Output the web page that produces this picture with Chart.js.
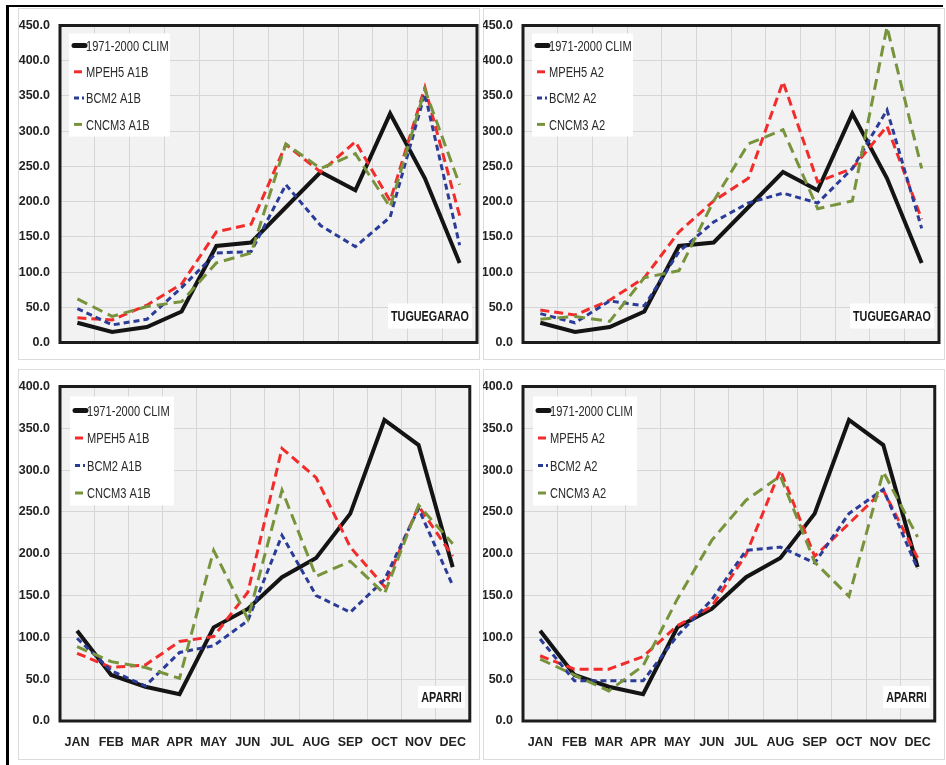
<!DOCTYPE html>
<html>
<head>
<meta charset="utf-8">
<script src="https://cdn.jsdelivr.net/npm/chart.js@4"></script>
<style>
  html, body { margin: 0; padding: 0; background: #fff; }
  #wrap { position: relative; width: 946px; height: 765px; overflow: hidden; background: #fff; }
  canvas { position: absolute; }
  #frame { position: absolute; left: 6px; top: 5px; width: 934px; height: 770px; border-left: 3px solid #000; border-top: 2px solid #000; }
</style>
</head>
<body>
<div id="wrap">
  <div id="frame"></div>
  <canvas id="c1" width="462" height="352" style="left:18px;top:8px"></canvas>
  <canvas id="c2" width="462" height="352" style="left:483px;top:8px"></canvas>
  <canvas id="c3" width="462" height="391" style="left:18px;top:369px"></canvas>
  <canvas id="c4" width="462" height="391" style="left:483px;top:369px"></canvas>
</div>
<script>
// ---- data ----
const months = ['JAN','FEB','MAR','APR','MAY','JUN','JUL','AUG','SEP','OCT','NOV','DEC'];
const yTicksTop = [0, 50, 100, 150, 200, 250, 300, 350, 400, 450];
const yTicksBottom = [0, 50, 100, 150, 200, 250, 300, 350, 400];

const tugClim      = [28, 15, 22, 44, 137, 142, 192, 242, 216, 325, 233, 113];
const tugMpeh5A1B  = [35, 32, 53, 83, 157, 168, 281, 242, 285, 201, 362, 180];
const tugBcm2A1B   = [48, 25, 33, 78, 127, 129, 224, 166, 136, 178, 353, 138];
const tugCncm3A1B  = [62, 37, 51, 58, 113, 127, 282, 247, 268, 192, 359, 224];

const tugMpeh5A2   = [46, 39, 60, 92, 157, 201, 233, 370, 228, 247, 307, 175];
const tugBcm2A2    = [41, 28, 59, 52, 129, 171, 198, 212, 198, 247, 330, 162];
const tugCncm3A2   = [33, 37, 30, 92, 102, 201, 282, 302, 190, 201, 448, 247];

const apaClim      = [108, 55, 41, 32, 112, 134, 172, 195, 248, 360, 330, 184];
const apaMpeh5A1B  = [81, 64, 67, 95, 101, 154, 326, 291, 208, 161, 257, 197];
const apaBcm2A1B   = [99, 60, 42, 82, 90, 120, 222, 150, 130, 169, 254, 162];
const apaCncm3A1B  = [89, 71, 64, 51, 204, 122, 276, 173, 191, 152, 258, 212];

const apaMpeh5A2   = [78, 62, 62, 77, 114, 137, 199, 300, 197, 236, 276, 195];
const apaBcm2A2    = [98, 48, 48, 48, 102, 145, 204, 208, 189, 248, 277, 182];
const apaCncm3A2   = [74, 55, 36, 66, 146, 216, 264, 293, 190, 149, 298, 220];

const climLabel = '1971-2000 CLIM';
const stations = ['TUGUEGARAO', 'APARRI'];

// ---- styling ----
const FONT = "'Liberation Sans', Arial, sans-serif";
const TXT = '#222';
const COL = { clim: '#141414', red: '#f22b2b', blue: '#2b3c98', green: '#77933c' };
const DASH = { red: [9, 5], blue: [6, 4], green: [11, 6] };

function mkDatasets(clim, r, b, g, scen) {
  return [
    { label: climLabel, data: clim, borderColor: COL.clim, borderWidth: 4, borderDash: [], order: 3 },
    { label: 'MPEH5 ' + scen, data: r, borderColor: COL.red, borderWidth: 3, borderDash: DASH.red, order: 2, legendDash: [8, 20] },
    { label: 'BCM2 ' + scen, data: b, borderColor: COL.blue, borderWidth: 3, borderDash: DASH.blue, order: 1, legendDash: [5, 3, 2, 20] },
    { label: 'CNCM3 ' + scen, data: g, borderColor: COL.green, borderWidth: 3, borderDash: DASH.green, order: 0, legendDash: [8, 20] }
  ].map(d => Object.assign(d, { pointRadius: 0, tension: 0, fill: false, borderCapStyle: 'butt', borderJoinStyle: 'miter' }));
}

function narrowText(ctx, text, x, y, font, sx, align) {
  ctx.save();
  ctx.font = font;
  ctx.textBaseline = 'middle';
  ctx.textAlign = align || 'left';
  ctx.translate(x, y);
  ctx.scale(sx, 1);
  ctx.fillText(text, 0, 0);
  ctx.restore();
}

const panelDeco = {
  id: 'panelDeco',
  beforeDraw(chart, args, o) {
    const ctx = chart.ctx, a = chart.chartArea;
    ctx.save();
    ctx.fillStyle = '#fff';
    ctx.fillRect(0, 0, chart.width, chart.height);
    ctx.strokeStyle = '#dcdcdc';
    ctx.lineWidth = 1;
    ctx.strokeRect(0.5, 0.5, chart.width - 1, chart.height - 1);
    ctx.fillStyle = '#f2f2f2';
    ctx.fillRect(a.left, a.top, a.right - a.left, a.bottom - a.top);
    ctx.restore();
  },
  afterDatasetsDraw(chart, args, o) {
    const ctx = chart.ctx, a = chart.chartArea;
    ctx.save();
    // legend box
    const L = o.legend;
    const x0 = a.left + L.dx, y0 = a.top + L.dy;
    ctx.fillStyle = '#fff';
    ctx.fillRect(x0, y0, L.w, L.h);
    chart.data.datasets.forEach((ds, i) => {
      const cy = y0 + L.first + i * L.gap;
      ctx.beginPath();
      ctx.strokeStyle = ds.borderColor;
      ctx.lineWidth = ds.borderWidth + (i === 0 ? 1 : 0);
      ctx.setLineDash(ds.legendDash || []);
      ctx.lineCap = i === 0 ? 'round' : 'butt';
      ctx.moveTo(x0 + 5, cy);
      ctx.lineTo(x0 + 16, cy);
      ctx.stroke();
      ctx.setLineDash([]);
      ctx.fillStyle = '#2a2a2a';
      narrowText(ctx, ds.label, x0 + 17, cy + 1, '15px ' + FONT, 0.74, 'left');
    });
    // station label
    const sf = 'bold 15px ' + FONT, ssx = 0.72;
    ctx.font = sf;
    const tw = ctx.measureText(o.station).width * ssx;
    const bw = tw + 6, bh = o.sh;
    const bx = a.right - 5 - bw, by = a.bottom - o.sb - bh;
    ctx.fillStyle = '#fff';
    ctx.fillRect(bx, by, bw, bh);
    ctx.fillStyle = '#1a1a1a';
    narrowText(ctx, o.station, bx + bw / 2, by + bh / 2 + 1, sf, ssx, 'center');
    // plot frame
    ctx.strokeStyle = '#1c1c1c';
    ctx.lineWidth = 3;
    ctx.strokeRect(a.left, a.top, a.right - a.left, a.bottom - a.top);
    ctx.restore();
  }
};

function makePanel(id, datasets, yTicks, showX, station, geo, legend, sh, sb) {
  const canvas = document.getElementById(id);
  const W = canvas.width, H = canvas.height;
  return new Chart(canvas, {
    type: 'line',
    data: { labels: months, datasets },
    plugins: [panelDeco],
    options: {
      responsive: false,
      animation: false,
      devicePixelRatio: 1,
      layout: { padding: { left: 0, top: geo.top, right: W - geo.right, bottom: 0 } },
      plugins: {
        legend: { display: false },
        tooltip: { enabled: false },
        panelDeco: { legend, station, sh, sb }
      },
      scales: {
        x: {
          offset: true,
          grid: { offset: true, color: '#d6d6d6', lineWidth: 1, drawTicks: false },
          border: { display: false },
          ticks: { display: showX, padding: 14, color: TXT, font: { family: FONT, size: 12.5, weight: 'bold' }, maxRotation: 0, autoSkip: false },
          afterFit(s) { s.height = H - geo.bottom; }
        },
        y: {
          min: yTicks[0],
          max: yTicks[yTicks.length - 1],
          afterBuildTicks(s) { s.ticks = yTicks.map(v => ({ value: v })); },
          grid: { color: '#d6d6d6', lineWidth: 1, drawTicks: false },
          border: { display: false },
          ticks: { padding: 10, color: TXT, font: { family: FONT, size: 12.5, weight: 'bold' }, callback: v => Number(v).toFixed(1) },
          afterFit(s) { s.width = geo.left; }
        }
      }
    }
  });
}

const legTop = { dx: 9, dy: 8, w: 101, h: 103, first: 12, gap: 26.3 };
const legBot = { dx: 10, dy: 10, w: 104, h: 109, first: 14, gap: 27.5 };

makePanel('c1', mkDatasets(tugClim, tugMpeh5A1B, tugBcm2A1B, tugCncm3A1B, 'A1B'), yTicksTop, false, stations[0],
  { left: 42, top: 14, right: 459, bottom: 339 }, legTop, 25, 14);
makePanel('c2', mkDatasets(tugClim, tugMpeh5A2, tugBcm2A2, tugCncm3A2, 'A2'), yTicksTop, false, stations[0],
  { left: 40, top: 14, right: 456, bottom: 339 }, legTop, 25, 14);
makePanel('c3', mkDatasets(apaClim, apaMpeh5A1B, apaBcm2A1B, apaCncm3A1B, 'A1B'), yTicksBottom, true, stations[1],
  { left: 42, top: 14, right: 460, bottom: 352 }, legBot, 22, 13);
makePanel('c4', mkDatasets(apaClim, apaMpeh5A2, apaBcm2A2, apaCncm3A2, 'A2'), yTicksBottom, true, stations[1],
  { left: 40, top: 14, right: 457, bottom: 352 }, legBot, 22, 13);
</script>
</body>
</html>
